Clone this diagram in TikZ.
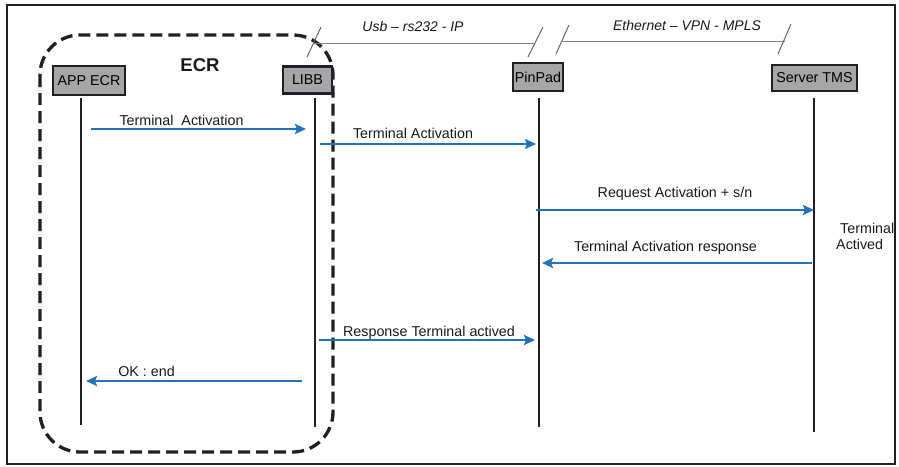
\documentclass[tikz,border=0pt]{standalone}
\usepackage{fontspec}
\setmainfont{Liberation Sans}
\usetikzlibrary{arrows.meta}
\definecolor{msgblue}{RGB}{30,114,190}
\definecolor{boxgray}{RGB}{166,166,166}
\definecolor{ink}{RGB}{30,32,38}
\definecolor{netgray}{RGB}{128,128,128}
\begin{document}
\begin{tikzpicture}[x=1pt,y=-1pt,
  font=\fontsize{14.3}{16}\selectfont,
  actor/.style={draw=ink, line width=2.6pt, fill=boxgray, minimum height=27pt, inner sep=0pt},
  lifeline/.style={draw=ink, line width=2.2pt},
  msg/.style={draw=msgblue, line width=2.8pt, -{Stealth[length=11pt,width=10pt,inset=2pt]}},
  lbl/.style={anchor=base, inner sep=0pt, text=black!90},
  net/.style={draw=netgray, line width=1pt},
  tick/.style={draw=netgray!80!black, line width=1pt},
  group/.style={draw=ink, line width=3.3pt, dash pattern=on 12pt off 6pt, rounded corners=40pt},
]
\useasboundingbox (0,0) rectangle (899,466);
% outer frame
\draw[ink, line width=2pt] (7,5) rectangle (895,464);

% ECR group
\draw[group] (40,35) rectangle (333,452);
\node[lbl, font=\bfseries\fontsize{18.5}{20}\selectfont] (ecr) at (200,71) {ECR};

% network annotations
\coordinate (u1) at (313,43);
\coordinate (u2) at (535,43);
\draw[net] (u1) -- (u2);
\draw[tick] (307,57) -- (321,27);
\draw[tick] (528,57) -- (543,27);
\node[lbl, font=\itshape\fontsize{14}{16}\selectfont] (usb) at (413,31.5) {Usb – rs232 - IP};

\coordinate (e1) at (562,41);
\coordinate (e2) at (785,41);
\draw[net] (e1) -- (e2);
\draw[tick] (556,54) -- (569,25);
\draw[tick] (778,54) -- (791,24);
\node[lbl, font=\itshape\fontsize{14}{16}\selectfont] (eth) at (687,30.5) {Ethernet – VPN - MPLS};

% actors
\node[actor, minimum width=72pt, minimum height=29pt] (app) at (89,80.5) {APP ECR};
\node[actor, minimum width=49pt] (libb) at (307.5,80) {LIBB};
\node[actor, minimum width=50pt, minimum height=28pt] (pin) at (538,77) {PinPad};
\node[actor, minimum width=85pt, minimum height=26pt] (tms) at (814.5,78) {Server TMS};

% lifelines
\coordinate (appT) at (81,98);   \coordinate (appB) at (81,425);
\coordinate (libbT) at (315,98); \coordinate (libbB) at (315,427);
\coordinate (pinT) at (539,98);  \coordinate (pinB) at (539,427);
\coordinate (tmsT) at (814,98);  \coordinate (tmsB) at (814,432);
\draw[lifeline] (appT) -- (appB);
\draw[lifeline] (libbT) -- (libbB);
\draw[lifeline] (pinT) -- (pinB);
\draw[lifeline] (tmsT) -- (tmsB);

% messages
\coordinate (m1a) at (91,129);  \coordinate (m1b) at (306,129);
\draw[msg] (m1a) -- (m1b);
\node[lbl] (l1) at (181.5,125.5) {Terminal\ \ Activation};

\coordinate (m2a) at (320,144); \coordinate (m2b) at (536,144);
\draw[msg] (m2a) -- (m2b);
\node[lbl] (l2) at (413,138) {Terminal Activation};

\coordinate (m3a) at (536,210); \coordinate (m3b) at (814,210);
\draw[msg] (m3a) -- (m3b);
\node[lbl] (l3) at (675,197) {Request Activation + s/n};

\coordinate (m4a) at (812,263); \coordinate (m4b) at (542,263);
\draw[msg] (m4a) -- (m4b);
\node[lbl] (l4) at (665.5,251) {Terminal Activation response};

\coordinate (m5a) at (319,340); \coordinate (m5b) at (535,340);
\draw[msg] (m5a) -- (m5b);
\node[lbl] (l5) at (429,336.5) {Response Terminal actived};

\coordinate (m6a) at (302,381); \coordinate (m6b) at (86,381);
\draw[msg] (m6a) -- (m6b);
\node[lbl] (l6) at (146.5,376) {OK : end};

% note at server
\node[anchor=base west, inner sep=0pt, text=black!90] (act1) at (840,233) {Terminal};
\node[anchor=base west, inner sep=0pt, text=black!90] (act2) at (836,249) {Actived};
\end{tikzpicture}
\end{document}
